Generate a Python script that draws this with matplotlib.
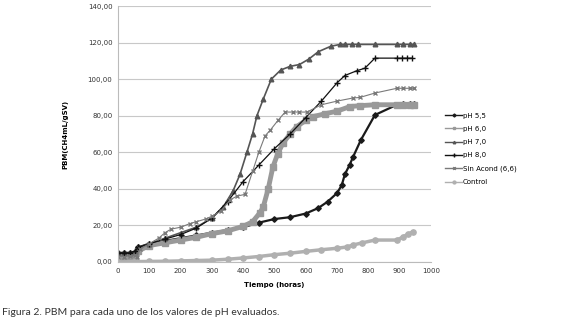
import matplotlib
matplotlib.use("Agg")
import matplotlib.pyplot as plt

# Datos (horas, PBM)
t_55 = [0, 20, 40, 55, 65, 100, 150, 200, 250, 300, 350, 400, 450, 500, 550, 600, 640, 670, 700, 715, 725, 740, 751, 776, 821, 891, 911, 933, 945]
v_55 = [5, 5, 5, 5.5, 8, 10, 11.5, 13, 14.5, 16, 17.5, 19, 21.5, 23.5, 24.5, 26.5, 29.5, 33, 37.7, 42, 48, 53, 57.4, 66.7, 80.4, 86, 86.5, 86.5, 86.5]

t_60 = [0, 20, 40, 55, 65, 100, 150, 200, 250, 300, 350, 400, 430, 454, 464, 480, 495, 510, 527, 550, 571, 600, 623, 660, 700, 741, 773, 821, 891, 911, 933, 945]
v_60 = [3, 3, 3.2, 3.5, 6, 9, 10.5, 12, 13.5, 15.5, 17, 19.5, 22, 27, 30, 40, 52, 59, 65, 70, 74, 77.5, 79.5, 81, 82.5, 85, 85.5, 86, 86, 86, 86, 86]

t_70 = [0, 20, 40, 55, 65, 100, 150, 200, 250, 300, 336, 368, 390, 412, 430, 444, 464, 490, 520, 550, 580, 610, 640, 680, 710, 725, 747, 767, 821, 891, 911, 933, 945]
v_70 = [5, 5, 5, 5.5, 8, 10, 13, 16, 19, 24, 30, 39, 48, 60, 70, 80, 89, 100, 105, 107, 108, 111, 115, 118, 119, 119, 119, 119, 119, 119, 119, 119, 119]

t_80 = [0, 20, 40, 55, 65, 100, 150, 200, 250, 300, 350, 400, 450, 500, 550, 600, 650, 700, 725, 763, 789, 821, 891, 907, 923, 939]
v_80 = [5, 5, 5, 6, 8, 10, 12.5, 15, 18.5, 24, 33, 44, 53, 62, 70, 79, 88, 98, 102, 104.6, 106, 111.5, 111.5, 111.5, 111.5, 111.5]

t_sa = [0, 20, 40, 55, 61, 70, 100, 130, 150, 170, 200, 230, 250, 280, 300, 330, 358, 380, 406, 431, 450, 470, 486, 512, 534, 560, 580, 604, 650, 700, 751, 773, 821, 891, 911, 933, 945]
v_sa = [3, 3, 3.5, 4, 2.7, 7, 10, 13, 16, 18, 19, 21, 22, 23.5, 25, 28, 34, 36, 37, 50, 60, 69, 72, 77.6, 82, 82, 82, 82, 86, 88, 89.7, 90, 92.4, 95, 95, 95, 95]

t_ct = [0, 50, 100, 150, 200, 250, 300, 350, 400, 450, 500, 550, 600, 650, 700, 731, 751, 779, 821, 891, 911, 927, 942]
v_ct = [0, 0.2, 0.3, 0.4, 0.6, 0.8, 1, 1.5, 2.2, 3, 4, 4.8, 5.8, 6.7, 7.5, 8.2, 9.3, 10.4, 12, 12, 13.7, 15.3, 16.4]

yticks = [0, 20, 40, 60, 80, 100, 120, 140]
xticks = [0, 100, 200, 300, 400, 500, 600, 700, 800, 900, 1000]

fig = plt.figure(figsize=(5.8, 3.24), dpi=100)
ax = fig.add_axes([0.2034, 0.1914, 0.5396, 0.79])

ax.plot(t_55, v_55, color='#1a1a1a', lw=1.6, marker='D', ms=2.8, label='pH 5,5')
ax.plot(t_60, v_60, color='#999999', lw=3.5, marker='s', ms=3.8, label='pH 6,0')
ax.plot(t_70, v_70, color='#555555', lw=1.2, marker='^', ms=3.3, label='pH 7,0')
ax.plot(t_80, v_80, color='#111111', lw=0.9, marker='+', ms=5, mew=1, label='pH 8,0')
ax.plot(t_sa, v_sa, color='#7a7a7a', lw=0.8, marker='x', ms=3.5, mew=1, label='Sin Acond (6,6)')
ax.plot(t_ct, v_ct, color='#b0b0b0', lw=2.5, marker='o', ms=3.8, label='Control')

ax.set_xlim(0, 1000)
ax.set_ylim(0, 140)
ax.set_xticks(xticks)
ax.set_yticks(yticks)
ax.set_yticklabels(['%d,00' % v for v in yticks])
ax.tick_params(labelsize=5, length=0, pad=4, colors='#333333')
ax.grid(axis='y', color='#c8c8c8', lw=0.8)
ax.set_axisbelow(True)
for s in ['top', 'right']:
    ax.spines[s].set_visible(False)
ax.spines['left'].set_color('#bbbbbb')
ax.spines['bottom'].set_color('#bbbbbb')

ax.set_xlabel('Tiempo (horas)', fontsize=5, fontweight='bold', labelpad=6)
ax.set_ylabel('PBM(CH4mL/gSV)', fontsize=5, fontweight='bold', labelpad=14)

leg = fig.legend(loc='upper left', bbox_to_anchor=(0.757, 0.672), frameon=False,
                 fontsize=5, handlelength=2.4, labelspacing=1.05, handletextpad=0.15,
                 markerscale=0.55)
for ln in leg.get_lines():
    ln.set_linewidth(1.0)

fig.text(0.003, 0.027, 'Figura 2. PBM para cada uno de los valores de pH evaluados.',
         fontsize=7.5, color='#333333', family='Lato')

fig.savefig('out.png', dpi=100)
